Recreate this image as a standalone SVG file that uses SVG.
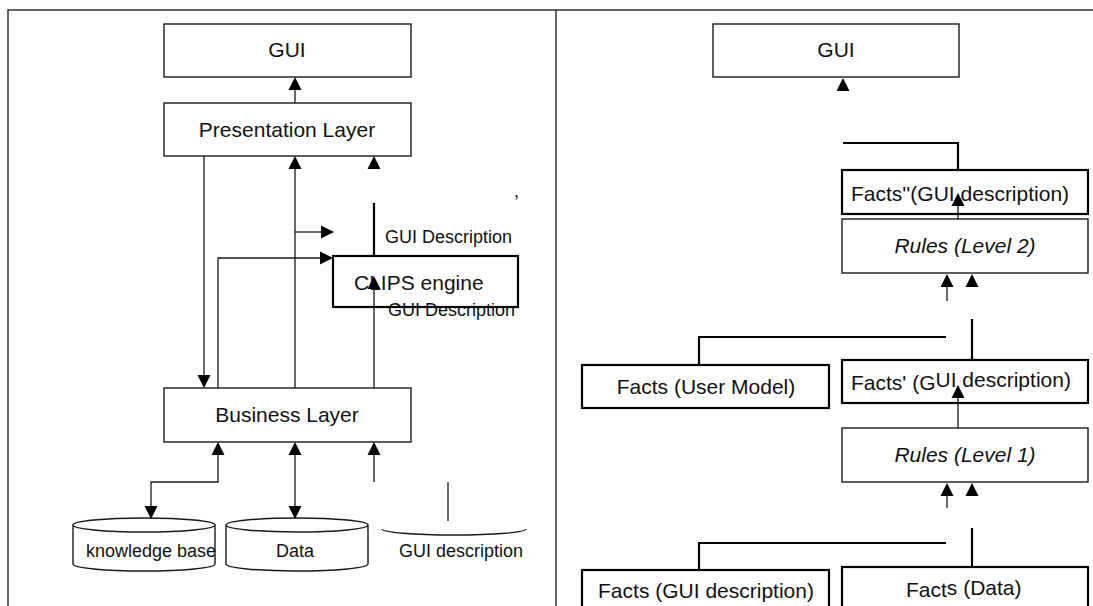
<svg xmlns="http://www.w3.org/2000/svg" width="1093" height="606" viewBox="0 0 1093 606">
  <style>
    text { font-family: "Liberation Sans", Arial, sans-serif; fill: #111; }
    .lbl { font-size: 21px; }
    .sm { font-size: 18px; }
    .it { font-style: italic; }
    .mid { text-anchor: middle; }
    .box { fill: #fff; stroke: #1a1a1a; stroke-width: 1.4; }
    .bold { fill: #fff; stroke: #000; stroke-width: 2.2; }
    .frame { fill: none; stroke: #333; stroke-width: 1.5; }
    .ln { fill: none; stroke: #1a1a1a; stroke-width: 1.3; }
    .lnb { fill: none; stroke: #000; stroke-width: 2.2; }
    .ah { fill: #000; }
  </style>
  <defs>
    <path id="ah-up" class="ah" d="M0,0 L6.5,13 L-6.5,13 Z"/>
    <path id="ah-down" class="ah" d="M0,0 L6.5,-13 L-6.5,-13 Z"/>
    <path id="ah-right" class="ah" d="M0,0 L-13,-6.5 L-13,6.5 Z"/>
  </defs>

  <rect width="1093" height="606" fill="#fff"/>

  <!-- page frame and column divider -->
  <g id="frame">
    <path class="frame" d="M8,606 V10 H1093 M556,10 V606"/>
  </g>

  <!-- left column: layered architecture -->
  <g id="gui-left">
    <rect class="box" x="164" y="24" width="247" height="53"/>
    <text class="lbl mid" x="287" y="57">GUI</text>
  </g>
  <g id="presentation-layer">
    <rect class="box" x="164" y="103" width="247" height="53"/>
    <text class="lbl mid" x="287" y="137">Presentation Layer</text>
  </g>
  <g id="business-layer">
    <rect class="box" x="164" y="388" width="247" height="54"/>
    <text class="lbl mid" x="287" y="422">Business Layer</text>
  </g>
  <g id="clips-engine">
    <rect class="bold" x="333" y="256" width="185" height="51"/>
    <text class="lbl" x="354" y="290">CLIPS engine</text>
  </g>
  <g id="knowledge-base">
    <path class="box" d="M73,525 V564 A71,7 0 0 0 215,564 V525 A71,7 0 0 0 73,525 A71,7 0 0 0 215,525"/>
    <text class="sm" x="86" y="557">knowledge base</text>
  </g>
  <g id="data-store">
    <path class="box" d="M226,525 V564 A71,7 0 0 0 368,564 V525 A71,7 0 0 0 226,525 A71,7 0 0 0 368,525"/>
    <text class="sm mid" x="295" y="557">Data</text>
  </g>
  <g id="gui-description-store">
    <path class="ln" d="M382,529 A72,6 0 0 0 526,529"/>
    <text class="sm" x="399" y="557">GUI description</text>
  </g>

  <!-- right column: rule levels -->
  <g id="gui-right">
    <rect class="box" x="713" y="24" width="246" height="53"/>
    <text class="lbl mid" x="836" y="57">GUI</text>
  </g>
  <g id="facts-gui-level2">
    <rect class="bold" x="842" y="170" width="246" height="44"/>
    <text class="lbl" x="851" y="201">Facts''(GUI description)</text>
  </g>
  <g id="rules-level2">
    <rect class="box" x="842" y="219" width="246" height="54"/>
    <text class="lbl it mid" x="965" y="253">Rules (Level 2)</text>
  </g>
  <g id="facts-user-model">
    <rect class="bold" x="582" y="365" width="247" height="43"/>
    <text class="lbl mid" x="706" y="394">Facts (User Model)</text>
  </g>
  <g id="facts-gui-level1">
    <rect class="bold" x="842" y="360" width="246" height="43"/>
    <text class="lbl" x="851" y="390">Facts' (G<tspan dy="-3">UI</tspan> description)</text>
  </g>
  <g id="rules-level1">
    <rect class="box" x="842" y="428" width="246" height="54"/>
    <text class="lbl it mid" x="965" y="462">Rules (Level 1)</text>
  </g>
  <g id="facts-gui-description">
    <rect class="bold" x="582" y="570" width="247" height="45"/>
    <text class="lbl mid" x="706" y="598">Facts (GUI description)</text>
  </g>
  <g id="facts-data">
    <rect class="bold" x="842" y="567" width="246" height="48"/>
    <text class="lbl" x="906" y="597">Fact<tspan dy="-2">s (Data)</tspan></text>
  </g>

  <!-- free labels -->
  <g id="labels">
    <text class="sm" x="385" y="243">GUI Description</text>
    <text class="sm" x="388" y="316">GUI Description</text>
    <text class="sm" x="514" y="197">,</text>
  </g>

  <!-- connectors -->
  <g id="connectors">
    <!-- left column -->
    <path class="ln" d="M295,103 V89"/>
    <use href="#ah-up" x="295" y="77"/>
    <path class="ln" d="M204,156 V376"/>
    <use href="#ah-down" x="204" y="388"/>
    <path class="ln" d="M295,388 V168"/>
    <use href="#ah-up" x="295" y="156"/>
    <use href="#ah-up" x="374" y="156"/>
    <path class="ln" d="M295,232 H322"/>
    <use href="#ah-right" x="334" y="232"/>
    <path class="ln" d="M218,388 V258 H321"/>
    <use href="#ah-right" x="333" y="258"/>
    <path class="lnb" d="M374,203 V256"/>
    <path class="ln" d="M374,388 V288"/>
    <use href="#ah-up" x="374" y="276"/>
    <!-- business layer to stores -->
    <use href="#ah-up" x="218" y="442"/>
    <path class="ln" d="M218,454 V482 H151 V507"/>
    <use href="#ah-down" x="151" y="519"/>
    <use href="#ah-up" x="295" y="442"/>
    <path class="ln" d="M295,454 V507"/>
    <use href="#ah-down" x="295" y="519"/>
    <use href="#ah-up" x="374" y="442"/>
    <path class="ln" d="M374,454 V482"/>
    <path class="ln" d="M448,482 V521"/>

    <!-- right column -->
    <use href="#ah-up" x="843" y="78"/>
    <path class="lnb" d="M843,143 H958 V170"/>
    <path class="ln" d="M958,206 V219"/>
    <use href="#ah-up" x="958" y="193"/>
    <use href="#ah-up" x="947" y="274"/>
    <path class="ln" d="M947,286 V301"/>
    <use href="#ah-up" x="972" y="274"/>
    <path class="lnb" d="M972,319 V360"/>
    <path class="lnb" d="M946,337 H699 V365"/>
    <path class="ln" d="M958,397 V428"/>
    <use href="#ah-up" x="958" y="385"/>
    <use href="#ah-up" x="947" y="483"/>
    <path class="ln" d="M947,495 V508"/>
    <use href="#ah-up" x="972" y="483"/>
    <path class="lnb" d="M972,528 V567"/>
    <path class="lnb" d="M946,543 H699 V570"/>
  </g>
</svg>
